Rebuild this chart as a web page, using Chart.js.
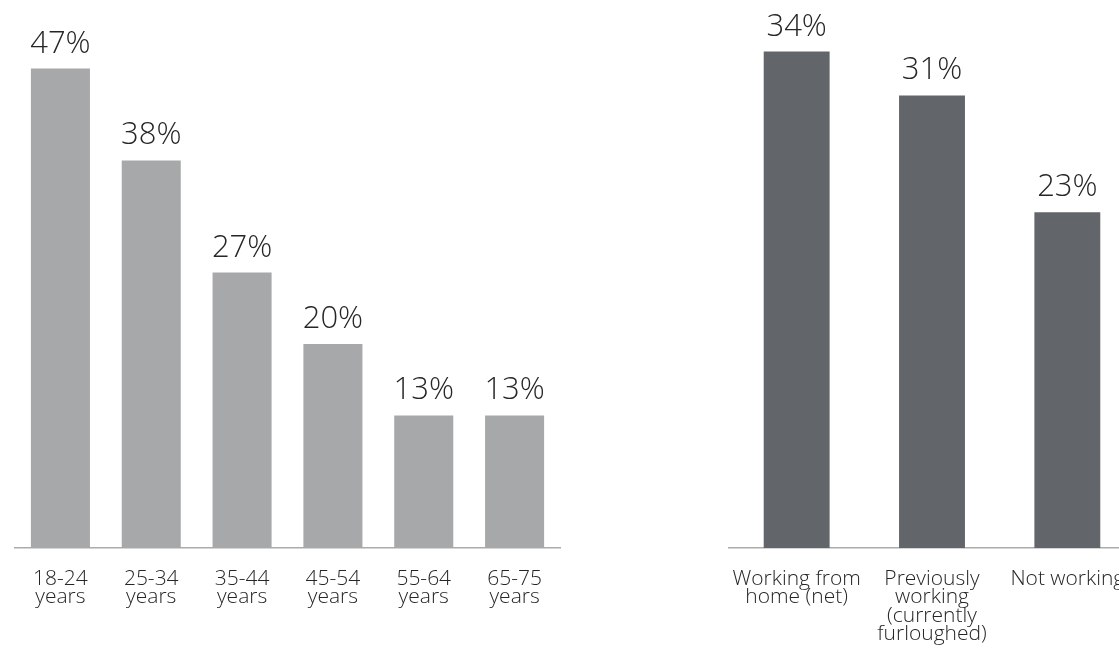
<!DOCTYPE html>
<html>
<head>
<meta charset="utf-8">
<script src="https://cdn.jsdelivr.net/npm/chart.js@4"></script>
<style>
  html, body { margin: 0; padding: 0; background: #fff; overflow: hidden; }
  body { width: 1119px; height: 652px; position: relative; }
  .box { position: absolute; top: 0; height: 652px; }
  #leftBox { left: 0; width: 575px; }
  #rightBox { left: 714px; width: 436px; }
</style>
</head>
<body>
<div class="box" id="leftBox"><canvas id="ageChart"></canvas></div>
<div class="box" id="rightBox"><canvas id="workChart"></canvas></div>
<script>
// ── Data ─────────────────────────────────────────────
const ageLabels = [['18-24', 'years'], ['25-34', 'years'], ['35-44', 'years'],
                   ['45-54', 'years'], ['55-64', 'years'], ['65-75', 'years']];
const ageValues = [47, 38, 27, 20, 13, 13];

const workLabels = [['Working from', 'home (net)'],
                    ['Previously', 'working', '(currently', 'furloughed)'],
                    ['Not working']];
const workValues = [34, 31, 23];

const TEXT = '#262626';
const FONT = "'Open Sans', sans-serif";

Chart.defaults.font.family = FONT;
Chart.defaults.color = TEXT;

// value labels above each bar
const valueLabels = {
    id: 'valueLabels',
    afterDatasetsDraw(chart) {
        const ctx = chart.ctx;
        const meta = chart.getDatasetMeta(0);
        const data = chart.data.datasets[0].data;
        ctx.save();
        ctx.font = `300 31px ${FONT}`;
        ctx.fillStyle = TEXT;
        ctx.textAlign = 'center';
        ctx.textBaseline = 'alphabetic';
        meta.data.forEach((bar, i) => {
            ctx.fillText(data[i] + '%', bar.x, bar.y - 16);
        });
        ctx.restore();
    }
};

function makeBarChart(canvasId, labels, values, color, barPct, yMax, padTop) {
    const ctx = document.getElementById(canvasId).getContext('2d');
    return new Chart(ctx, {
        type: 'bar',
        data: {
            labels,
            datasets: [{
                data: values,
                backgroundColor: color,
                borderWidth: 0,
                categoryPercentage: 1,
                barPercentage: barPct,
            }],
        },
        options: {
            responsive: true, maintainAspectRatio: false,
            animation: false,
            layout: { padding: { top: padTop, left: 15, right: 15, bottom: 0 } },
            plugins: { legend: { display: false }, tooltip: { enabled: false } },
            scales: {
                x: {
                    grid: { display: false, drawTicks: false },
                    border: { display: true, color: '#ababab', width: 1.5 },
                    ticks: {
                        padding: 22,
                        color: TEXT,
                        maxRotation: 0,
                        autoSkip: false,
                        font: { size: 21, weight: 300, lineHeight: 0.87 },
                    },
                    afterFit(scale) {
                        scale.height = 104;
                        scale.paddingLeft = 0;
                        scale.paddingRight = 0;
                    },
                },
                y: { display: false, min: 0, max: yMax },
            },
        },
        plugins: [valueLabels],
    });
}

makeBarChart('ageChart', ageLabels, ageValues, '#a7a8aa', 0.65, 50, 38);
makeBarChart('workChart', workLabels, workValues, '#626569', 0.487, 35, 37);
</script>
</body>
</html>
